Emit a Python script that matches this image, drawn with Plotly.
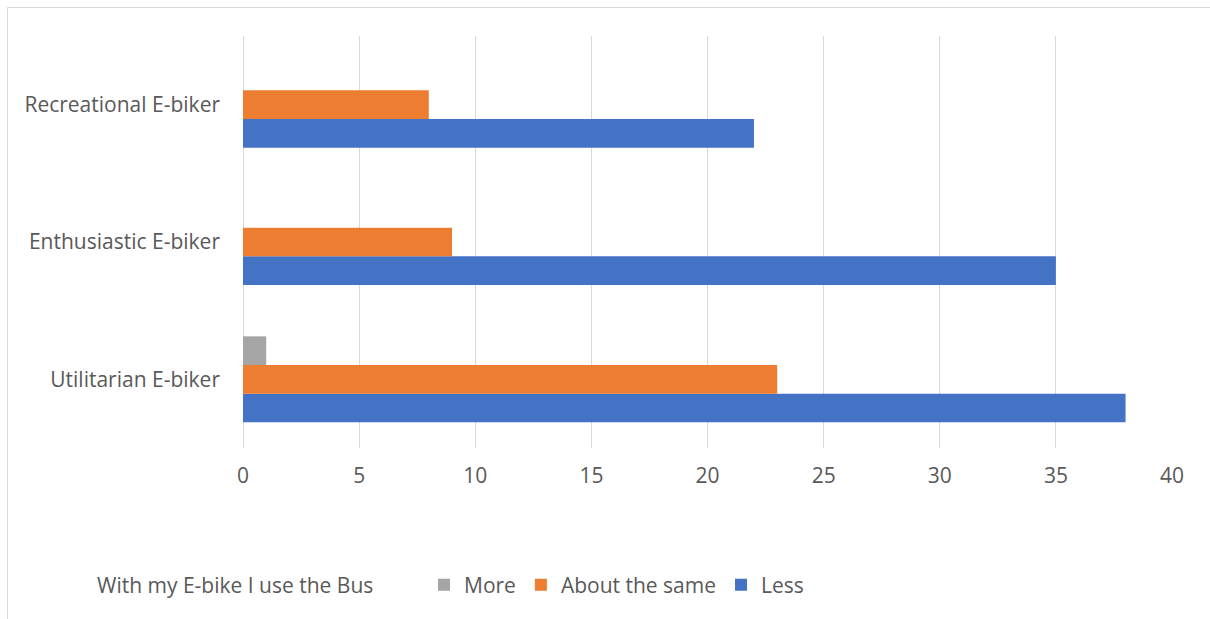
import plotly.graph_objects as go

# Survey answers per e-biker type
categories = ["Utilitarian E-biker", "Enthusiastic E-biker", "Recreational E-biker"]
less = [38, 35, 22]
about_same = [23, 9, 8]
more = [1, 0, 0]

series_names = ["Less", "About the same", "More"]
series_colors = ["#4472C4", "#ED7D31", "#A5A5A5"]
series_values = [less, about_same, more]

FONT = "Open Sans"
TEXT_COLOR = "#595959"
SIZE = 21

fig = go.Figure()
for name, color, values in zip(series_names, series_colors, series_values):
    fig.add_trace(go.Bar(
        y=categories,
        x=values,
        name=name,
        orientation="h",
        marker=dict(color=color, line=dict(width=0)),
    ))

fig.update_layout(
    width=1210,
    height=619,
    margin=dict(l=243, r=38, t=36, b=171),
    paper_bgcolor="white",
    plot_bgcolor="white",
    barmode="group",
    bargap=0.374,
    bargroupgap=0,
    font=dict(family=FONT, size=SIZE, color=TEXT_COLOR),
    xaxis=dict(
        range=[0, 40],
        dtick=5,
        showgrid=True,
        gridcolor="#D9D9D9",
        gridwidth=1.3,
        zeroline=True,
        zerolinecolor="#D9D9D9",
        zerolinewidth=1.3,
        showline=False,
        ticks="",
        ticklabelstandoff=13,
        tickfont=dict(size=SIZE, color=TEXT_COLOR),
        fixedrange=True,
    ),
    yaxis=dict(
        showgrid=False,
        zeroline=False,
        showline=False,
        ticks="",
        ticklabelstandoff=22,
        tickfont=dict(size=SIZE, color=TEXT_COLOR),
        fixedrange=True,
    ),
    showlegend=True,
    legend=dict(
        orientation="h",
        traceorder="reversed",
        x=(424 - 243) / 929,
        xanchor="left",
        y=(448 - 585) / 412,
        yanchor="middle",
        font=dict(size=SIZE, color=TEXT_COLOR),
        bgcolor="rgba(0,0,0,0)",
    ),
    annotations=[
        dict(
            text="With my E-bike I use the Bus",
            xref="paper", yref="paper",
            x=(95 - 243) / 929, y=(448 - 585) / 412,
            xanchor="left", yanchor="middle",
            showarrow=False,
            font=dict(family=FONT, size=SIZE, color=TEXT_COLOR),
        )
    ],
    shapes=[
        dict(
            type="rect",
            xref="paper", yref="paper",
            x0=(7.5 - 243) / 929, x1=(1230 - 243) / 929,
            y0=(448 - 640) / 412, y1=(448 - 7.5) / 412,
            line=dict(color="#D9D9D9", width=1),
            fillcolor="rgba(0,0,0,0)",
            layer="below",
        )
    ],
)

fig.write_html("out.html")
